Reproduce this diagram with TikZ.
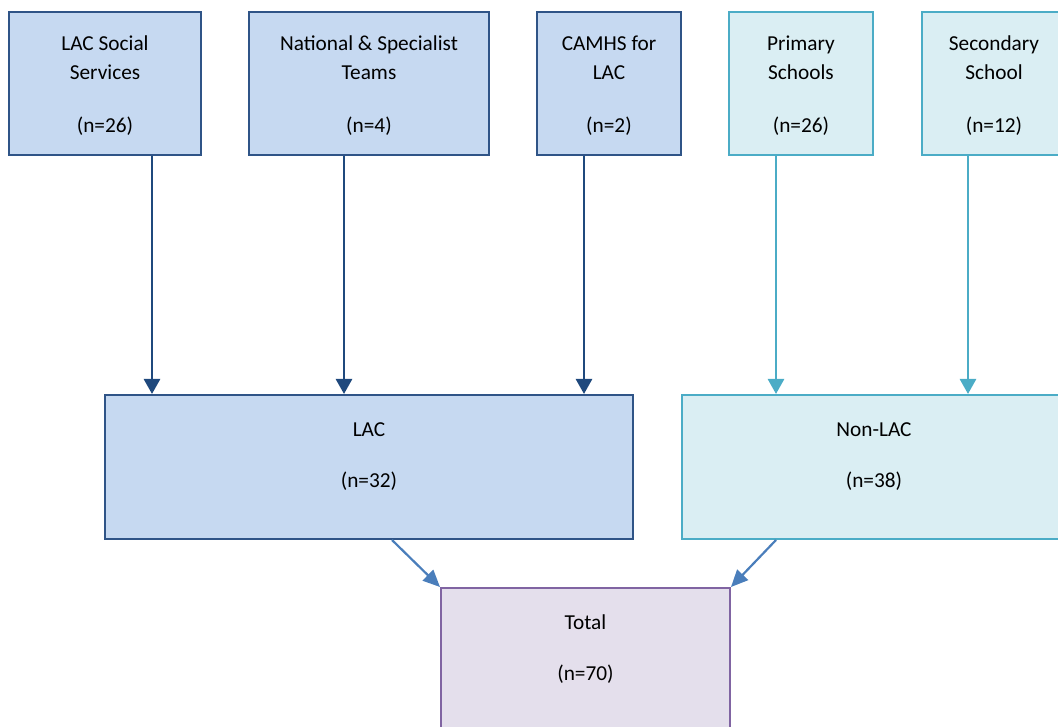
\documentclass[tikz,border=0pt]{standalone}
\usepackage{fontspec}
\setmainfont{Carlito}
\usetikzlibrary{arrows.meta, positioning}

\definecolor{lacline}{HTML}{2F5487}
\definecolor{lacfill}{HTML}{C6D9F1}
\definecolor{lacarr}{HTML}{1F497D}
\definecolor{schline}{HTML}{4BACC6}
\definecolor{schfill}{HTML}{DAEEF3}
\definecolor{totline}{HTML}{8064A2}
\definecolor{totfill}{HTML}{E4DFEC}
\definecolor{totarr}{HTML}{4A7EBB}

\begin{document}
\begin{tikzpicture}[x=1pt, y=-1pt, font=\fontsize{21.3}{29.3}\selectfont,
    box/.style={rectangle, align=center, inner sep=0pt, minimum height=143pt, line width=2pt},
    lacbox/.style={box, draw=lacline, fill=lacfill},
    schbox/.style={box, draw=schline, fill=schfill},
    totbox/.style={box, draw=totline, fill=totfill, minimum height=150pt},
    boxtxt/.style={align=center, inner sep=0pt},
    lacarrow/.style={draw=lacarr, line width=2.7pt, -{Triangle[width=16pt, length=15pt]}},
    scharrow/.style={draw=schline, line width=2.7pt, -{Triangle[width=16pt, length=15pt]}},
    totarrow/.style={draw=totarr, line width=2.2pt, -{Triangle[width=15pt, length=17pt]}}]
        \useasboundingbox (0,0) rectangle (1058,727);
        \clip (0,0) rectangle (1058,727);

        % Sources
        \node[lacbox, minimum width=192pt] (soc) at (105,83.5) {};
        \node[boxtxt] (soc-t) at ([yshift=-2pt]soc.center) {LAC Social\\Services\\[23.7pt](n=26)};
        \node[lacbox, minimum width=240pt] (nat) at (369,83.5) {};
        \node[boxtxt] (nat-t) at ([yshift=-2pt]nat.center) {National \& Specialist\\Teams\\[23.7pt](n=4)};
        \node[lacbox, minimum width=144pt] (camhs) at (609,83.5) {};
        \node[boxtxt] (camhs-t) at ([yshift=-2pt]camhs.center) {CAMHS for\\LAC\\[23.7pt](n=2)};
        \node[schbox, minimum width=144pt] (prim) at (801,83.5) {};
        \node[boxtxt] (prim-t) at ([yshift=-2pt]prim.center) {Primary\\Schools\\[23.7pt](n=26)};
        \node[schbox, minimum width=144pt] (sec) at (994,83.5) {};
        \node[boxtxt] (sec-t) at ([yshift=-2pt]sec.center) {Secondary\\School\\[23.7pt](n=12)};

        % Groups
        \node[lacbox, minimum width=528pt, minimum height=144pt] (lac) at (369,467) {};
        \node[boxtxt] (lac-t) at ([yshift=-63pt]lac.north) {LAC\\[21.7pt](n=32)};
        \node[schbox, minimum width=384pt, minimum height=144pt] (nonlac) at (874,467) {};
        \node[boxtxt] (nonlac-t) at ([yshift=-63pt]nonlac.north) {Non-LAC\\[21.7pt](n=38)};

        % Total
        \node[totbox, minimum width=289pt] (tot) at (585.5,663) {};
        \node[boxtxt] (tot-t) at ([yshift=-62.5pt]tot.north) {Total\\[21.7pt](n=70)};

        % Arrows
        \draw[lacarrow] ([xshift=144pt]soc.south west) coordinate (a1) -- (a1 |- lac.north);
        \draw[lacarrow] ([xshift=96pt]nat.south west) coordinate (a2) -- (a2 |- lac.north);
        \draw[lacarrow] ([xshift=48pt]camhs.south west) coordinate (a3) -- (a3 |- lac.north);
        \draw[scharrow] ([xshift=48pt]prim.south west) coordinate (a4) -- (a4 |- nonlac.north);
        \draw[scharrow] ([xshift=47pt]sec.south west) coordinate (a5) -- (a5 |- nonlac.north);
        \draw[totarrow] ([xshift=288pt]lac.south west) -- (tot.north west);
        \draw[totarrow] ([xshift=95pt]nonlac.south west) -- (tot.north east);
\end{tikzpicture}
\end{document}
